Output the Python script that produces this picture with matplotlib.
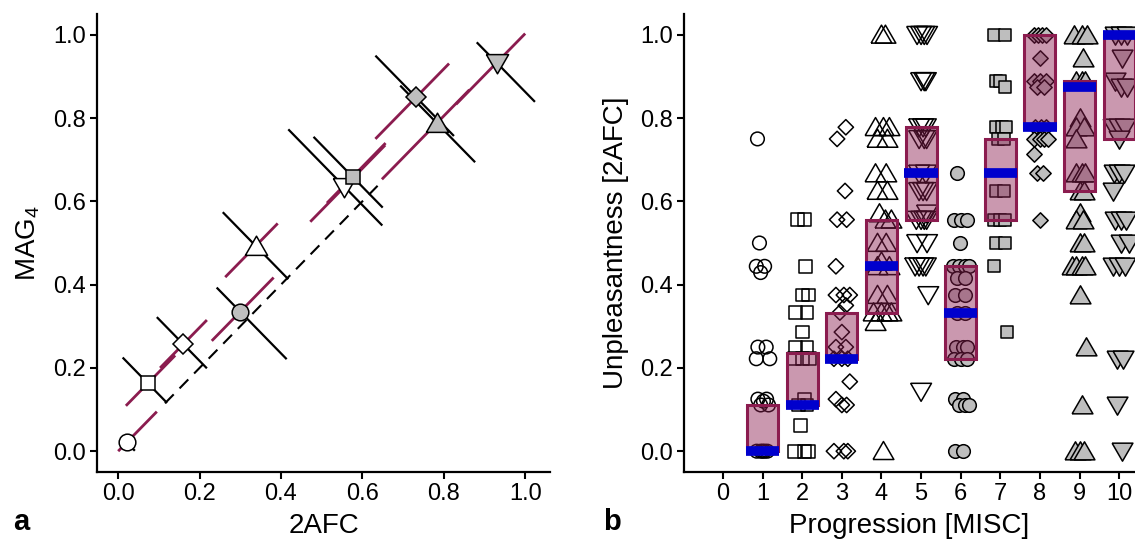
import numpy as np
import matplotlib
matplotlib.use('Agg')
import matplotlib.pyplot as plt

plt.rcParams['font.family'] = ['Liberation Sans', 'DejaVu Sans']
plt.rcParams['mathtext.default'] = 'regular'

# 01 Panel a data: 2AFC vs MAG4 per progression level (levels 1..10)
afc = [0.021, 0.073, 0.160, 0.338, 0.556, 0.300, 0.576, 0.732, 0.783, 0.930]
mag = [0.021, 0.163, 0.257, 0.493, 0.635, 0.335, 0.659, 0.850, 0.788, 0.933]
diag_lo = [0.021, 0.054, 0.057, 0.075, 0.084, 0.070, 0.063, 0.100, 0.135, 0.100]
diag_hi = [0.074, 0.067, 0.058, 0.054, 0.100, 0.082, 0.081, 0.081, 0.080, 0.070]
anti_lo = [0.010, 0.062, 0.065, 0.081, 0.138, 0.058, 0.096, 0.100, 0.090, 0.049]
anti_hi = [0.020, 0.047, 0.058, 0.080, 0.093, 0.114, 0.074, 0.093, 0.094, 0.094]
identity_range = [0.115, 0.645]

# 02 Panel b data: unpleasantness per progression level (jitter)
levels = [1, 2, 3, 4, 5, 6, 7, 8, 9, 10]
y_lvl1 = [0.75, 0.5, 0.444, 0.444, 0.429, 0.25, 0.25, 0.222, 0.222, 0.125, 0.125, 0.111, 0.111, 0.12,
          0, 0, 0, 0, 0]
jit_lvl1 = [-0.13, -0.08, -0.16, 0.05, -0.05, -0.12, 0.09, -0.16, 0.18, -0.12, 0.1, -0.05, 0.15, 0.02,
            -0.15, -0.05, 0.05, 0.12, 0.0]
y_lvl2 = [0.556, 0.556, 0.444, 0.375, 0.375, 0.333, 0.333, 0.286, 0.25, 0.25, 0.222, 0.222, 0.222,
          0.125, 0.111, 0.111, 0.0625, 0, 0, 0]
jit_lvl2 = [-0.12, 0.05, 0.08, 0.0, 0.15, -0.18, 0.12, 0.0, -0.18, 0.12, -0.2, 0.0, 0.18,
            0.05, -0.1, 0.12, -0.05, -0.2, 0.05, 0.15]
y_lvl3 = [0.778, 0.75, 0.625, 0.556, 0.556, 0.444, 0.375, 0.375, 0.375, 0.35, 0.333, 0.286, 0.25, 0.25,
          0.222, 0.222, 0.222, 0.167, 0.125, 0.111, 0.111, 0, 0, 0]
jit_lvl3 = [0.1, -0.12, 0.08, -0.12, 0.12, -0.15, -0.15, 0.05, 0.2, 0.1, -0.05, 0.0, -0.15, 0.1,
            -0.2, 0.0, 0.15, 0.2, -0.15, 0.0, 0.12, -0.2, 0.05, 0.15]
y_lvl4 = [1.0, 1.0, 0.778, 0.778, 0.778, 0.75, 0.75, 0.667, 0.667, 0.625, 0.625, 0.571, 0.556, 0.556,
          0.5, 0.5, 0.455, 0.444, 0.444, 0.375, 0.375, 0.333, 0.333, 0.333, 0.333, 0.31, 0]
jit_lvl4 = [0.0, 0.1, -0.15, 0.05, 0.2, -0.1, 0.15, -0.15, 0.12, -0.1, 0.15, -0.05, 0.1, 0.25,
            -0.1, 0.12, 0.0, -0.1, 0.2, -0.1, 0.15, -0.2, 0.0, 0.15, 0.25, -0.15, 0.05]
y_lvl5 = [1.0, 1.0, 1.0, 1.0, 0.889, 0.889, 0.889, 0.778, 0.778, 0.778, 0.75, 0.75, 0.75, 0.667, 0.667,
          0.625, 0.625, 0.625, 0.571, 0.556, 0.556, 0.556, 0.556, 0.5, 0.5, 0.444, 0.444, 0.444, 0.444,
          0.375, 0.143]
jit_lvl5 = [-0.1, 0.0, 0.08, 0.15, 0.0, 0.08, 0.12, -0.05, 0.05, 0.12, -0.05, 0.08, 0.14, -0.05, 0.12,
            -0.05, 0.05, 0.14, 0.15, -0.12, 0.0, 0.08, 0.14, -0.1, 0.15, -0.15, -0.05, 0.05, 0.12,
            0.18, 0.0]
y_lvl6 = [0.667, 0.556, 0.556, 0.556, 0.5, 0.444, 0.444, 0.444, 0.444, 0.417, 0.417, 0.375, 0.375,
          0.333, 0.333, 0.25, 0.25, 0.25, 0.222, 0.222, 0.222, 0.125, 0.125, 0.111, 0.111, 0.111, 0, 0]
jit_lvl6 = [-0.1, -0.18, 0.0, 0.15, -0.02, -0.2, -0.05, 0.1, 0.2, -0.1, 0.12, -0.15, 0.1,
            -0.1, 0.12, -0.12, 0.05, 0.15, -0.18, 0.0, 0.15, -0.15, 0.05, -0.05, 0.12, 0.2, -0.15, 0.05]
y_lvl7 = [1.0, 1.0, 0.889, 0.889, 0.875, 0.778, 0.778, 0.778, 0.75, 0.75, 0.625, 0.625, 0.556, 0.556,
          0.556, 0.5, 0.5, 0.444, 0.286]
jit_lvl7 = [-0.17, 0.13, -0.12, 0.0, 0.12, -0.1, 0.05, 0.15, -0.05, 0.1, -0.1, 0.1, -0.15, 0.0,
            0.12, -0.1, 0.12, -0.17, 0.17]
y_lvl8 = [1.0, 1.0, 1.0, 1.0, 0.944, 0.889, 0.889, 0.889, 0.875, 0.875, 0.778, 0.778, 0.778, 0.75, 0.75,
          0.75, 0.75, 0.714, 0.667, 0.667, 0.556]
jit_lvl8 = [-0.15, -0.05, 0.05, 0.15, 0.0, -0.15, 0.0, 0.15, -0.08, 0.1, -0.12, 0.02, 0.15, -0.15, 0.0,
            0.1, 0.2, -0.15, -0.08, 0.08, 0.0]
y_lvl9 = [1.0, 1.0, 1.0, 0.944, 0.889, 0.889, 0.889, 0.8, 0.778, 0.778, 0.75, 0.667, 0.667, 0.667,
          0.625, 0.625, 0.571, 0.556, 0.556, 0.5, 0.5, 0.444, 0.444, 0.444, 0.444, 0.375, 0.25, 0.111,
          0, 0, 0]
jit_lvl9 = [-0.15, 0.05, 0.2, 0.08, -0.1, 0.05, 0.15, 0.0, -0.1, 0.12, -0.1, -0.1, 0.05, 0.15,
            0.0, 0.1, 0.0, -0.1, 0.08, 0.0, 0.12, -0.2, -0.08, 0.05, 0.15, 0.0, 0.17, 0.05,
            -0.12, 0.0, 0.12]
y_lvl10 = [1.0, 1.0, 1.0, 0.944, 0.889, 0.875, 0.875, 0.778, 0.778, 0.778, 0.75, 0.667, 0.667, 0.667,
           0.625, 0.556, 0.556, 0.556, 0.5, 0.5, 0.444, 0.444, 0.444, 0.222, 0.222, 0.111, 0]
jit_lvl10 = [-0.1, 0.05, 0.2, 0.07, -0.1, 0.05, 0.2, -0.15, 0.0, 0.15, 0.0, -0.12, 0.0, 0.12,
             -0.15, -0.1, 0.05, 0.18, 0.05, 0.25, -0.15, 0.0, 0.15, -0.05, 0.1, -0.05, 0.07]

box_lo = [0, 0.111, 0.222, 0.333, 0.556, 0.222, 0.556, 0.778, 0.625, 0.75]
box_hi = [0.111, 0.235, 0.333, 0.556, 0.778, 0.444, 0.75, 1.0, 0.889, 1.0]
medians = [0, 0.111, 0.222, 0.444, 0.667, 0.333, 0.667, 0.778, 0.875, 1.0]

y_all = [y_lvl1, y_lvl2, y_lvl3, y_lvl4, y_lvl5, y_lvl6, y_lvl7, y_lvl8, y_lvl9, y_lvl10]
jit_all = [jit_lvl1, jit_lvl2, jit_lvl3, jit_lvl4, jit_lvl5, jit_lvl6, jit_lvl7, jit_lvl8, jit_lvl9, jit_lvl10]

# 03 Styles
Maroon = '#8B1C4F'
Blue = '#0000CD'
Gray = '#BEBEBE'
TriUp = [(-1, -0.8), (1, -0.8), (0, 0.93), (-1, -0.8)]
TriDown = [(-1, 0.8), (1, 0.8), (0, -0.93), (-1, 0.8)]
Markers = ['o', 's', 'D', TriUp, TriDown] * 2
Faces = ['white'] * 5 + [Gray] * 5
SizeA = [12, 10, 10, 16, 16, 12, 10, 10, 16, 16]
SizeB = [9.8, 9.2, 7.8, 15, 15, 9.8, 9.2, 7.8, 15, 15]

def style_axes(Axes):
    for Side in ['top', 'right']:
        Axes.spines[Side].set_visible(False)
    for Side in ['left', 'bottom']:
        Axes.spines[Side].set_linewidth(1.6)
    Axes.tick_params(direction='out', length=5, width=1.5, labelsize=17, pad=3)

Figure = plt.figure(figsize=(11.35, 5.4), dpi=100)

# 04 Panel a
AxA = Figure.add_axes([97 / 1135, 68 / 540, 453 / 1135, 458 / 540])
AxA.plot(identity_range, identity_range, color='black', lw=1.5, linestyle=(0, (6, 4)), zorder=1)
for i in range(len(afc)):
    AxA.plot([afc[i] - diag_lo[i], afc[i] + diag_hi[i]], [mag[i] - diag_lo[i], mag[i] + diag_hi[i]],
             color=Maroon, lw=2.0, solid_capstyle='butt', zorder=2)
for i in range(len(afc)):
    AxA.plot([afc[i] - anti_lo[i], afc[i] + anti_hi[i]], [mag[i] + anti_lo[i], mag[i] - anti_hi[i]],
             color='black', lw=1.6, solid_capstyle='butt', zorder=3)
for i in range(len(afc)):
    AxA.plot(afc[i], mag[i], marker=Markers[i], markersize=SizeA[i], markerfacecolor=Faces[i],
             markeredgecolor='black', markeredgewidth=1.1, linestyle='none', zorder=4)
AxA.set_xlim(-0.052, 1.061)
AxA.set_ylim(-0.05, 1.05)
AxA.set_xticks(np.arange(0, 1.01, 0.2))
AxA.set_yticks(np.arange(0, 1.01, 0.2))
AxA.set_xticklabels(['%.1f' % v for v in np.arange(0, 1.01, 0.2)])
AxA.set_yticklabels(['%.1f' % v for v in np.arange(0, 1.01, 0.2)])
style_axes(AxA)
AxA.set_xlabel('2AFC', fontsize=20, labelpad=6)
AxA.set_ylabel('MAG$_4$', fontsize=20, labelpad=8)

# 05 Panel b
AxB = Figure.add_axes([684 / 1135, 68 / 540, 451 / 1135, 458 / 540])
for i, Level in enumerate(levels):
    AxB.scatter(Level + np.array(jit_all[i]), y_all[i], marker=Markers[i], s=SizeB[i] ** 2,
                facecolors=Faces[i] if i >= 5 else 'none', edgecolors='black', linewidths=1.1,
                zorder=2, clip_on=False)
AxB.bar(levels, np.array(box_hi) - np.array(box_lo), bottom=box_lo, width=0.78,
        facecolor=(0.545, 0.11, 0.31, 0.45), edgecolor=Maroon, linewidth=2.2, zorder=3)
AxB.hlines(medians, np.array(levels) - 0.42, np.array(levels) + 0.42, color=Blue, lw=7, zorder=4)
AxB.set_xlim(-0.985, 10.4)
AxB.set_ylim(-0.05, 1.05)
AxB.set_xticks(range(0, 11))
AxB.set_yticks(np.arange(0, 1.01, 0.2))
AxB.set_yticklabels(['%.1f' % v for v in np.arange(0, 1.01, 0.2)])
style_axes(AxB)
AxB.set_xlabel('Progression [MISC]', fontsize=20, labelpad=6)
AxB.set_ylabel('Unpleasantness [2AFC]', fontsize=20, labelpad=8)

Figure.text(13 / 1135, 10 / 540, 'a', fontsize=21, fontweight='bold')
Figure.text(603 / 1135, 10 / 540, 'b', fontsize=21, fontweight='bold')

Figure.savefig('out.png', dpi=100)
